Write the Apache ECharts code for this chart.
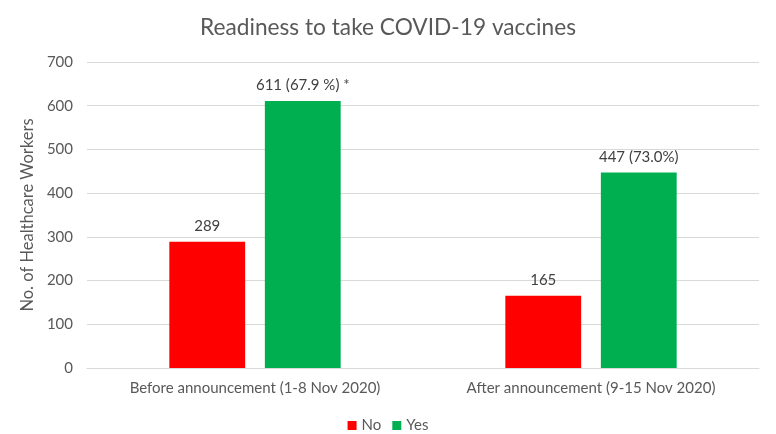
<!DOCTYPE html>
<html><head><meta charset="utf-8">
<script src="https://cdn.jsdelivr.net/npm/echarts@6/dist/echarts.min.js"></script>
<style>html,body{margin:0;padding:0;background:#fff}#c{width:776px;height:434px}</style>
</head><body><div id="c"></div>
<script>
const categories = ["Before announcement (1-8 Nov 2020)", "After announcement (9-15 Nov 2020)"];
const noValues = [289, 165];
const yesValues = [611, 447];
const noLabels = ["289", "165"];
const yesLabels = ["611 (67.9 %) *", "447 (73.0%)"];
const font = "Lato, 'Open Sans', sans-serif";
const chart = echarts.init(document.getElementById('c'));
chart.setOption({
  animation: false,
  title: { text: "Readiness to take COVID-19 vaccines", left: 'center', top: 11,
    textStyle: { fontFamily: font, fontSize: 22.7, fontWeight: 'normal', color: '#595959' } },
  legend: { top: 413, left: 'center', itemWidth: 9, itemHeight: 9, itemGap: 11,
    icon: 'rect', textStyle: { fontFamily: font, fontSize: 15, color: '#595959' } },
  grid: { left: 87, right: 17, top: 62, bottom: 66 },
  xAxis: { type: 'category', data: categories,
    axisLine: { lineStyle: { color: '#d9d9d9' } }, axisTick: { show: false },
    axisLabel: { fontFamily: font, fontSize: 15, color: '#595959', margin: 13 } },
  yAxis: { type: 'value', min: 0, max: 700, interval: 100,
    name: 'No. of Healthcare Workers', nameLocation: 'middle', nameGap: 50,
    nameTextStyle: { fontFamily: font, fontSize: 16.5, color: '#595959' },
    axisLine: { show: false }, axisTick: { show: false },
    splitLine: { lineStyle: { color: '#d9d9d9' } },
    axisLabel: { fontFamily: font, fontSize: 15, color: '#595959', margin: 14 } },
  series: [
    { name: 'No', type: 'bar', data: noValues, itemStyle: { color: '#ff0000' },
      barGap: '26%', barCategoryGap: '49%',
      label: { show: true, position: 'top', distance: 8, fontFamily: font, fontSize: 15, color: '#404040',
        formatter: p => noLabels[p.dataIndex] } },
    { name: 'Yes', type: 'bar', data: yesValues, itemStyle: { color: '#00b050' },
      label: { show: true, position: 'top', distance: 8, fontFamily: font, fontSize: 15, color: '#404040',
        formatter: p => yesLabels[p.dataIndex] } }
  ]
});
</script></body></html>
